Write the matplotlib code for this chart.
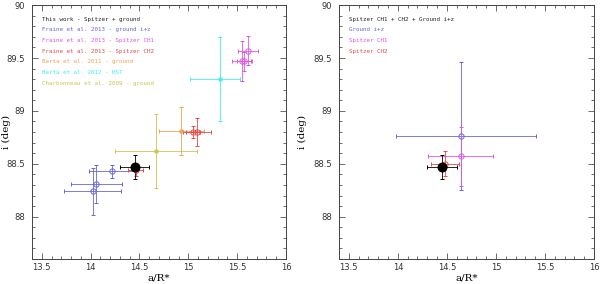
import matplotlib
matplotlib.use("Agg")
import matplotlib.pyplot as plt
from matplotlib.ticker import MultipleLocator

# left panel data: (a/R*, i, xerr, yerr) per source
this_x, this_y = [14.45], [88.47]
this_xerr, this_yerr = [0.15], [0.11]

fr_gnd_x = [14.02, 14.06, 14.22]
fr_gnd_y = [88.24, 88.31, 88.43]
fr_gnd_xerr = [0.29, 0.26, 0.24]
fr_gnd_yerr = [0.22, 0.18, 0.06]

fr_ch1_x = [15.61, 15.55, 15.57]
fr_ch1_y = [89.57, 89.47, 89.47]
fr_ch1_xerr = [0.10, 0.10, 0.07]
fr_ch1_yerr = [0.14, 0.19, 0.09]

fr_ch2_x = [14.46, 15.05, 15.09]
fr_ch2_y = [88.44, 88.80, 88.80]
fr_ch2_xerr = [0.08, 0.07, 0.14]
fr_ch2_yerr = [0.06, 0.06, 0.13]

berta11_x, berta11_y = [14.93], [88.81]
berta11_xerr, berta11_yerr = [0.23], [0.23]

berta12_x, berta12_y = [15.32], [89.30]
berta12_xerr = [[0.30], [0.21]]
berta12_yerr = [0.40]

charb_x, charb_y = [14.67], [88.62]
charb_xerr, charb_yerr = [0.42], [0.35]

# right panel data
r_all_x, r_all_y = [14.45], [88.47]
r_all_xerr, r_all_yerr = [0.15], [0.11]
r_gnd_x, r_gnd_y = [14.64], [88.76]
r_gnd_xerr = [[0.66], [0.77]]
r_gnd_yerr = [[0.51], [0.70]]
r_ch1_x, r_ch1_y = [14.64], [88.57]
r_ch1_xerr, r_ch1_yerr = [0.33], [0.28]
r_ch2_x, r_ch2_y = [14.48], [88.50]
r_ch2_xerr, r_ch2_yerr = [0.14], [0.12]

BLUE = "#6666dd"
MAG = "#e055e8"
RED = "#e84848"
ORANGE = "#f0a455"
CYAN = "#44eef0"
OLIVE = "#c8c850"

fig = plt.figure(figsize=(6, 2.84), dpi=100)
axL = fig.add_axes([0.0533, 0.088, 0.4233, 0.894])
axR = fig.add_axes([0.565, 0.088, 0.425, 0.894])


def eb(ax, x, y, xe, ye, color, filled=False, ms=3.8):
    ax.errorbar(x, y, xerr=xe, yerr=ye, fmt="o", color=color, ecolor=color,
                elinewidth=0.6, capsize=1.5, capthick=0.6, ms=ms,
                mfc=color if filled else "none", mec=color, mew=0.7)


def style(ax, ylab_x):
    ax.set_xlim(13.4, 16)
    ax.set_ylim(87.6, 90)
    ax.xaxis.set_minor_locator(MultipleLocator(0.1))
    ax.yaxis.set_minor_locator(MultipleLocator(0.1))
    ax.set_yticks([88, 88.5, 89, 89.5, 90])
    ax.set_yticklabels(["88", "88.5", "89", "89.5", "90"])
    ax.set_xticks([13.5, 14, 14.5, 15, 15.5, 16])
    ax.set_xticklabels(["13.5", "14", "14.5", "15", "15.5", "16"])
    ax.tick_params(which="both", direction="in", top=True, right=True,
                   labelsize=6, width=0.5, colors="#333333", pad=3)
    ax.tick_params(axis="y", which="both", pad=5)
    ax.tick_params(which="major", length=4)
    ax.tick_params(which="minor", length=2)
    for s in ax.spines.values():
        s.set_linewidth(0.7)
        s.set_color("#444444")
    ax.set_xlabel("a/R*", family="serif", fontsize=7.5, labelpad=1)
    ax.set_ylabel("i (deg)", family="serif", fontsize=7.5)
    ax.yaxis.set_label_coords(ylab_x, 0.5)


eb(axL, charb_x, charb_y, charb_xerr, charb_yerr, OLIVE, filled=True, ms=2.5)
eb(axL, berta11_x, berta11_y, berta11_xerr, berta11_yerr, ORANGE, filled=True, ms=2.5)
eb(axL, berta12_x, berta12_y, berta12_xerr, berta12_yerr, CYAN, filled=True, ms=2.5)
eb(axL, fr_gnd_x, fr_gnd_y, fr_gnd_xerr, fr_gnd_yerr, BLUE)
eb(axL, fr_ch1_x, fr_ch1_y, fr_ch1_xerr, fr_ch1_yerr, MAG)
eb(axL, fr_ch2_x, fr_ch2_y, fr_ch2_xerr, fr_ch2_yerr, RED)
eb(axL, this_x, this_y, this_xerr, this_yerr, "black", filled=True, ms=6.5)

eb(axR, r_gnd_x, r_gnd_y, r_gnd_xerr, r_gnd_yerr, BLUE)
eb(axR, r_ch1_x, r_ch1_y, r_ch1_xerr, r_ch1_yerr, MAG)
eb(axR, r_ch2_x, r_ch2_y, r_ch2_xerr, r_ch2_yerr, RED)
eb(axR, r_all_x, r_all_y, r_all_xerr, r_all_yerr, "black", filled=True, ms=6.5)

left_labels = ["This work - Spitzer + ground",
               "Fraine et al. 2013 - ground i+z",
               "Fraine et al. 2013 - Spitzer CH1",
               "Fraine et al. 2013 - Spitzer CH2",
               "Berta et al. 2011 - ground",
               "Berta et al. 2012 - HST",
               "Charbonneau et al. 2009 - ground"]
left_colors = ["#222222", BLUE, MAG, RED, ORANGE, CYAN, OLIVE]
right_labels = ["Spitzer CH1 + CH2 + Ground i+z", "Ground i+z",
                "Spitzer CH1", "Spitzer CH2"]
right_colors = ["#222222", BLUE, MAG, RED]

for ax, labels, colors, lx in [(axL, left_labels, left_colors, -0.083),
                               (axR, right_labels, right_colors, -0.125)]:
    for k, (t, c) in enumerate(zip(labels, colors)):
        ax.text(0.04, 0.945 - k * 0.042, t, transform=ax.transAxes,
                color=c, fontsize=4.2, family="DejaVu Sans Mono", va="center")
    style(ax, lx)

fig.savefig("out.png", dpi=100)
